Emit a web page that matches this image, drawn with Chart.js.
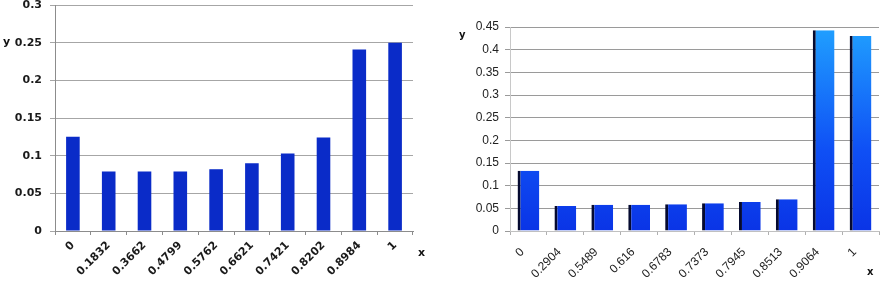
<!DOCTYPE html>
<html>
<head>
<meta charset="utf-8">
<script src="https://cdn.jsdelivr.net/npm/chart.js@4.4.0/dist/chart.umd.min.js"></script>
<style>
  body { margin: 0; background: #fff; width: 885px; height: 281px; overflow: hidden; position: relative; }
  .box { position: absolute; top: 0; height: 281px; }
  #leftBox { left: 0; width: 445px; }
  #rightBox { left: 445px; width: 440px; }
  .lbl { position: absolute; font-family: "DejaVu Sans", sans-serif; font-weight: bold; color: #111; }
</style>
</head>
<body>
<div class="box" id="leftBox"><canvas id="leftChart" width="445" height="281"></canvas></div>
<div class="box" id="rightBox"><canvas id="rightChart" width="440" height="281"></canvas></div>
<span class="lbl" style="left:3px;top:35px;font-size:11px;">y</span>
<span class="lbl" style="left:418px;top:246px;font-size:11px;">x</span>
<span class="lbl" style="left:459px;top:29px;font-size:10px;">y</span>
<span class="lbl" style="left:867px;top:266px;font-size:10px;">x</span>
<script>
// left chart data
const leftLabels = ["0", "0.1832", "0.3662", "0.4799", "0.5762", "0.6621", "0.7421", "0.8202", "0.8984", "1"];
const leftValues = [0.125, 0.079, 0.079, 0.079, 0.082, 0.090, 0.103, 0.124, 0.241, 0.250];
const leftTicks = [0, 0.05, 0.1, 0.15, 0.2, 0.25, 0.3];

// right chart data
const rightLabels = ["0", "0.2904", "0.5489", "0.616", "0.6783", "0.7373", "0.7945", "0.8513", "0.9064", "1"];
const rightValues = [0.133, 0.055, 0.058, 0.058, 0.059, 0.061, 0.064, 0.070, 0.443, 0.430];
const rightTicks = [0, 0.05, 0.1, 0.15, 0.2, 0.25, 0.3, 0.35, 0.4, 0.45];

Chart.defaults.animation = false;

// keep the plot edges where the reference has them, labels may overhang
function noLabelPad(s) {
  s.paddingTop = 0;
  s.paddingBottom = 0;
}

new Chart(document.getElementById("leftChart"), {
  type: "bar",
  data: {
    labels: leftLabels,
    datasets: [{
      data: leftValues,
      backgroundColor: "#0a2bc8",
      barPercentage: 0.38,
      categoryPercentage: 1
    }]
  },
  options: {
    responsive: false,
    layout: { padding: { top: 5, right: 32, left: 0, bottom: 0 } },
    plugins: { legend: { display: false }, tooltip: { enabled: false } },
    scales: {
      x: {
        grid: { offset: true, drawOnChartArea: false, tickLength: 4, color: "#8c8c8c" },
        border: { color: "#8c8c8c" },
        ticks: {
          autoSkip: false, minRotation: 45, maxRotation: 45, padding: 4,
          color: "#1a1a1a", font: { family: "DejaVu Sans", size: 11, weight: "bold" }
        },
        afterFit: (s) => { s.height = 50; }
      },
      y: {
        min: 0, max: 0.3,
        afterBuildTicks: (s) => { s.ticks = leftTicks.map(v => ({ value: v })); },
        grid: { color: "#a6a6a6", tickLength: 5 },
        border: { color: "#8c8c8c" },
        ticks: {
          padding: 8, color: "#1a1a1a",
          font: { family: "DejaVu Sans", size: 11, weight: "bold" },
          callback: (v) => String(v)
        },
        afterFit: (s) => { s.width = 55; noLabelPad(s); }
      }
    }
  }
});

function rightFill(ctx) {
  const chart = ctx.chart;
  const area = chart.chartArea;
  if (!area) return "#0a3de8";
  const g = chart.ctx.createLinearGradient(0, area.bottom, 0, area.top);
  g.addColorStop(0, "#0a34e6");
  g.addColorStop(0.4, "#0f50f5");
  g.addColorStop(1, "#20a0ff");
  return g;
}

new Chart(document.getElementById("rightChart"), {
  type: "bar",
  data: {
    labels: rightLabels,
    datasets: [{
      data: rightValues,
      backgroundColor: rightFill,
      borderColor: "#050a30",
      borderWidth: { left: 3, right: 0, top: 0, bottom: 0 },
      borderSkipped: false,
      barPercentage: 0.59,
      categoryPercentage: 1
    }]
  },
  options: {
    responsive: false,
    layout: { padding: { top: 27, right: 6, left: 0, bottom: 0 } },
    plugins: { legend: { display: false }, tooltip: { enabled: false } },
    scales: {
      x: {
        grid: { offset: true, drawOnChartArea: false, tickLength: 4, color: "#b0b0b0" },
        border: { color: "#c0c0c0" },
        ticks: {
          autoSkip: false, minRotation: 45, maxRotation: 45, padding: 10, labelOffset: -6,
          color: "#222", font: { family: "Liberation Sans", size: 12 }
        },
        afterFit: (s) => { s.height = 50; }
      },
      y: {
        min: 0, max: 0.45,
        afterBuildTicks: (s) => { s.ticks = rightTicks.map(v => ({ value: v })); },
        grid: { color: "#9a9a9a", tickLength: 5 },
        border: { color: "#c8c8c8" },
        ticks: {
          padding: 6, color: "#222",
          font: { family: "Liberation Sans", size: 12 },
          callback: (v) => String(v)
        },
        afterFit: (s) => { s.width = 65; noLabelPad(s); }
      }
    }
  }
});
</script>
</body>
</html>
